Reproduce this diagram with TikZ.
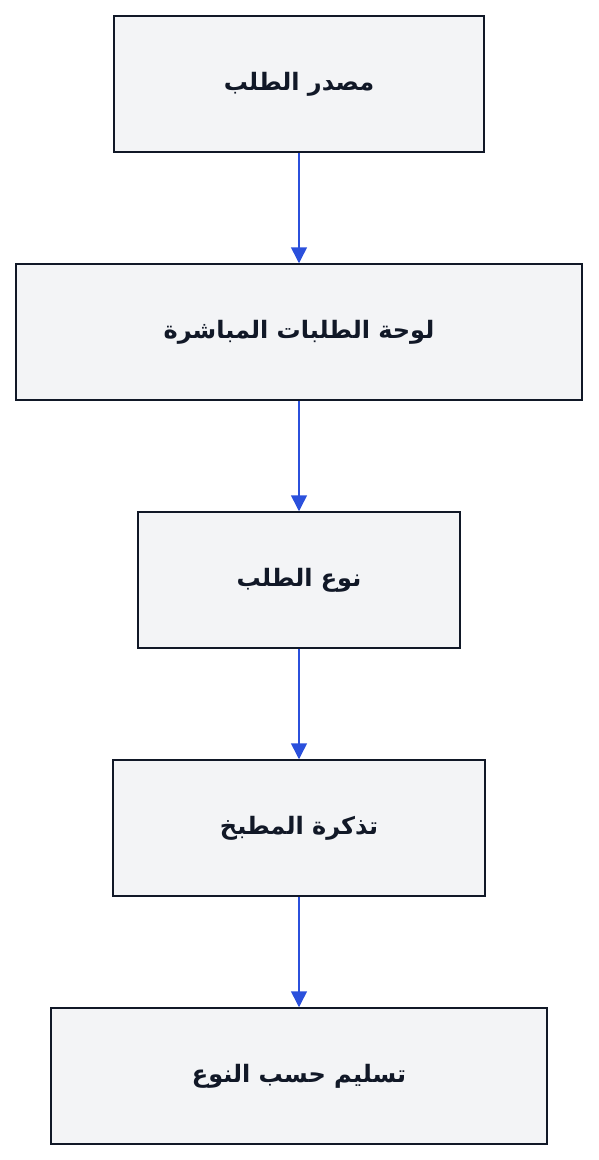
\documentclass[tikz,border=0pt]{standalone}
\usepackage{fontspec}
\newfontfamily\arabicfont[Script=Arabic]{DejaVu Sans}
\TeXXeTstate=1
\usetikzlibrary{arrows.meta}
\definecolor{boxfill}{HTML}{F3F4F6}
\definecolor{boxline}{HTML}{111827}
\definecolor{arrowblue}{HTML}{2B50DC}
\tikzset{
  x=1pt,y=-1pt,
  stepbox/.style={draw=boxline,fill=boxfill,line width=1.5pt,minimum height=136pt,inner sep=0pt,
    font=\arabicfont\bfseries\fontsize{24}{28}\selectfont,text=boxline},
  flow/.style={draw=arrowblue,line width=1.5pt,-{Triangle[width=16pt,length=16pt]}}
}
\begin{document}
\begin{tikzpicture}
\useasboundingbox (0,0) rectangle (598,1160);
\node[stepbox,minimum width=370pt] (a) at (299,84) {\beginR مصدر الطلب\endR};
\node[stepbox,minimum width=566pt] (b) at (299,332) {\beginR لوحة الطلبات المباشرة\endR};
\node[stepbox,minimum width=322pt] (c) at (299,580) {\beginR نوع الطلب\endR};
\node[stepbox,minimum width=372pt] (d) at (299,828) {\beginR تذكرة المطبخ\endR};
\node[stepbox,minimum width=496pt] (e) at (299,1076) {\beginR تسليم حسب النوع\endR};
\draw[flow] (a) -- (b);
\draw[flow] (b) -- (c);
\draw[flow] (c) -- (d);
\draw[flow] (d) -- (e);
\end{tikzpicture}
\end{document}
